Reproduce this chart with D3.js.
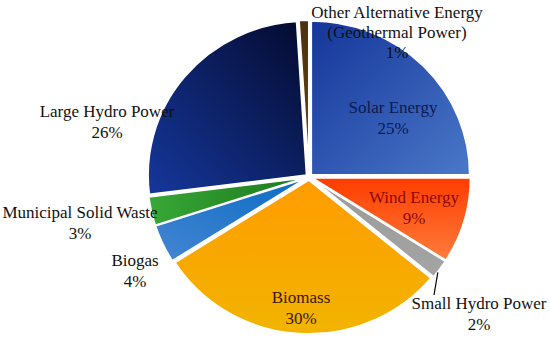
<!DOCTYPE html>
<html>
<head>
<meta charset="utf-8">
<script src="https://cdn.jsdelivr.net/npm/d3@7"></script>
<style>
  body { margin: 0; background: #fff; }
  text { font-family: "Liberation Serif", "DejaVu Serif", serif; }
</style>
</head>
<body>
<div id="chart"></div>
<script>
// share of each renewable source, clockwise from 12 o'clock
const sources = ["Solar Energy", "Wind Energy", "Small Hydro Power", "Biomass",
  "Biogas", "Municipal Solid Waste", "Large Hydro Power", "Other Alternative Energy"];
const shares = [25, 9, 2, 30, 4, 3, 26, 1];
// extra caption line (only the geothermal one has it)
const subtitles = ["", "", "", "", "", "", "", "(Geothermal Power)"];

// gradient stops per slice [start, end]
const gradStops = [
  ["#14359a", "#4a78c8"],
  ["#ff3c00", "#ff7d3c"],
  ["#9a9a9a", "#a4a4a4"],
  ["#ff9c00", "#f2b400"],
  ["#0a6cc4", "#4585d2"],
  ["#37a837", "#1c781c"],
  ["#040a2e", "#15379c"],
  ["#4e300c", "#6a4516"]
];
const textColors = ["#0b1a52", "#8a0a00", "#111", "#3a1800", "#111", "#111", "#111", "#111"];

const width = 550, height = 337;
const cx = 309, cy = 177, r = 154, explode = 3;

const svg = d3.select("#chart").append("svg")
  .attr("width", width)
  .attr("height", height)
  .attr("viewBox", [0, 0, width, height]);

const defs = svg.append("defs");
// directions of each gradient (bounding box units)
const gradDir = [[0, 0, 1, 1], [0, 0, 0, 1], [0, 0, 0, 1], [0, 0, 0, 1],
  [1, 0, 0, 1], [0, 0, 1, 0], [1, 0, 0, 1], [0, 0, 0, 1]];
gradStops.forEach((s, i) => {
  const lg = defs.append("linearGradient")
    .attr("id", "grad" + i)
    .attr("x1", gradDir[i][0]).attr("y1", gradDir[i][1])
    .attr("x2", gradDir[i][2]).attr("y2", gradDir[i][3]);
  lg.append("stop").attr("offset", 0).attr("stop-color", s[0]);
  lg.append("stop").attr("offset", 1).attr("stop-color", s[1]);
});

const data = sources.map((name, i) => ({ name, value: shares[i], sub: subtitles[i], i }));

const pie = d3.pie().sort(null).value(d => d.value);
const arcs = pie(data);
const arc = d3.arc().innerRadius(0).outerRadius(r);

// pie is a touch wider than tall in the original
const g = svg.append("g").attr("transform", `translate(${cx},${cy}) scale(1.03,1)`);

g.selectAll("path")
  .data(arcs)
  .join("path")
    .attr("transform", d => {
      const a = (d.startAngle + d.endAngle) / 2;
      return `translate(${explode * Math.sin(a)},${-explode * Math.cos(a)})`;
    })
    .attr("d", arc)
    .attr("fill", d => `url(#grad${d.data.i})`)
    .attr("stroke", "#fff")
    .attr("stroke-width", 1.8);

// label placement (centre of the first line), set by hand like the original
const labelAt = [[393, 107], [414, 197], [479, 303], [301, 297],
  [135, 260], [80, 212], [107, 111], [397, 12]];
const lineGap = 21;

const labels = svg.append("g")
  .attr("font-size", 17)
  .attr("text-anchor", "middle");

arcs.forEach(d => {
  const [x, y] = labelAt[d.data.i];
  const lines = [d.data.name];
  if (d.data.sub) lines.push(d.data.sub);
  lines.push(d.data.value + "%");
  const t = labels.append("text")
    .attr("fill", textColors[d.data.i]);
  lines.forEach((ln, k) => {
    t.append("tspan")
      .attr("x", x)
      .attr("y", y + k * (d.data.sub ? 20 : lineGap))
      .attr("dy", "0.35em")
      .text(ln);
  });
});

// leader line for the small hydro slice
const sh = arcs[2];
const ma = (sh.startAngle + sh.endAngle) / 2;
const ex = cx + 1.03 * (r + explode) * Math.sin(ma);
const ey = cy - (r + explode) * Math.cos(ma);
svg.append("line")
  .attr("x1", ex - 2).attr("y1", ey + 3)
  .attr("x2", labelAt[2][0] - 45).attr("y2", labelAt[2][1] - 8)
  .attr("stroke", "#000")
  .attr("stroke-width", 1.2);
</script>
</body>
</html>
